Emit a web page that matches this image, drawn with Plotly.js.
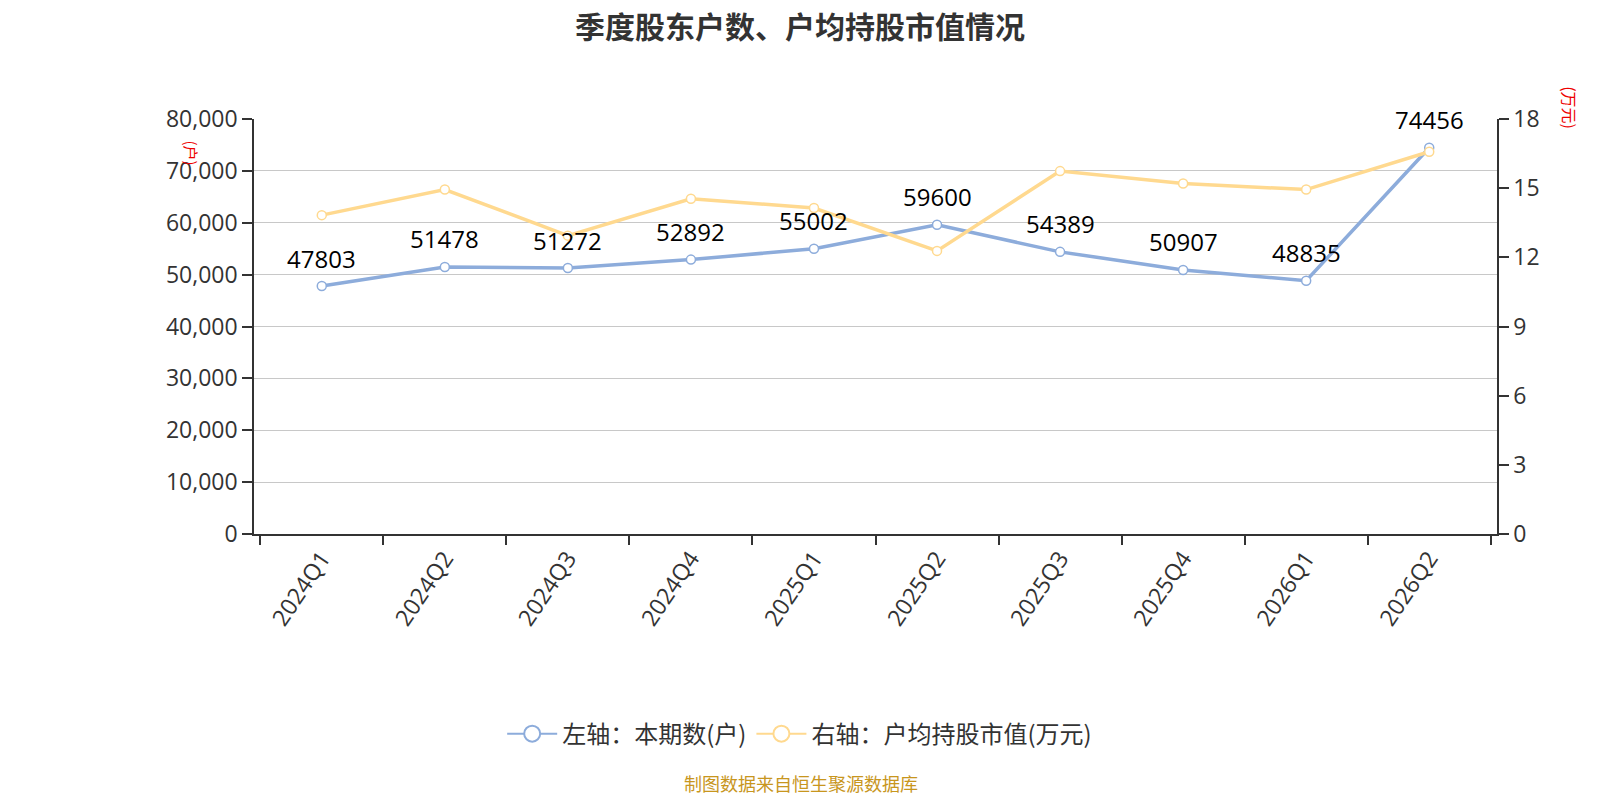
<!DOCTYPE html>
<html>
<head>
<meta charset="utf-8">
<script src="https://cdn.plot.ly/plotly-3.0.1.min.js"></script>
<style>
  html, body { margin: 0; padding: 0; background: #fff; }
  #chart { width: 1600px; height: 800px; }
</style>
</head>
<body>
<div id="chart"></div>
<script>
const quarters = ["2024Q1", "2024Q2", "2024Q3", "2024Q4", "2025Q1", "2025Q2", "2025Q3", "2025Q4", "2026Q1", "2026Q2"]
const holders = [47803, 51478, 51272, 52892, 55002, 59600, 54389, 50907, 48835, 74456]
const avgValue = [13.83, 14.94, 12.94, 14.54, 14.14, 12.28, 15.74, 15.20, 14.94, 16.58]
const leftTicks = [0, 10000, 20000, 30000, 40000, 50000, 60000, 70000, 80000]
const rightTicks = [0, 3, 6, 9, 12, 15, 18]

const blue = "#8dacdb"
const yellow = "#ffd98f"
const font = "Open Sans, Noto Sans CJK SC, sans-serif"
const cjk = "Noto Sans CJK SC, sans-serif"

const holderLine = {
  name: "左轴：本期数(户)",
  x: quarters,
  y: holders,
  yaxis: "y",
  type: "scatter",
  mode: "lines+markers",
  line: {color: blue, width: 3.5},
  marker: {size: 9, color: "#fff", line: {color: blue, width: 1.5}},
  showlegend: false,
  cliponaxis: false
}

const valueLine = {
  name: "右轴：户均持股市值(万元)",
  x: quarters,
  y: avgValue,
  yaxis: "y2",
  type: "scatter",
  mode: "lines+markers",
  line: {color: yellow, width: 3.5},
  marker: {size: 9, color: "#fff", line: {color: yellow, width: 1.5}},
  showlegend: false,
  cliponaxis: false
}

// legend-only entries, big open circles like the original
const legendBlue = {
  name: holderLine.name, x: [null], y: [null], type: "scatter", mode: "lines+markers",
  line: {color: blue, width: 2},
  marker: {size: 20, color: "#fff", line: {color: blue, width: 2}}
}
const legendYellow = {
  name: valueLine.name, x: [null], y: [null], yaxis: "y2", type: "scatter", mode: "lines+markers",
  line: {color: yellow, width: 2},
  marker: {size: 20, color: "#fff", line: {color: yellow, width: 2}}
}

// value labels over the blue points
const labels = quarters.map((q, i) => ({
  x: q, y: holders[i], xref: "x", yref: "y",
  text: String(holders[i]), showarrow: false,
  yanchor: "middle", yshift: 28,
  font: {size: 24, color: "#000", family: font}
}))

const layout = {
  width: 1600,
  height: 800,
  margin: {l: 254, r: 103, t: 119, b: 266},
  paper_bgcolor: "#fff",
  plot_bgcolor: "#fff",
  font: {family: font, color: "#333", size: 20},
  title: {
    text: "<b>季度股东户数、户均持股市值情况</b>",
    x: 0.5, xanchor: "center", y: 0.966, yanchor: "middle",
    font: {size: 30, color: "#333", family: cjk}
  },
  xaxis: {
    type: "category",
    tickangle: -56,
    ticks: "outside",
    tickson: "boundaries",
    ticklen: 9,
    tickcolor: "#333",
    tickwidth: 1.5,
    showline: true,
    linecolor: "#333",
    linewidth: 1.5,
    showgrid: false,
    automargin: false,
    tickfont: {size: 23, color: "#333"}
  },
  yaxis: {
    range: [0, 80000],
    tickvals: leftTicks,
    tickformat: ",d",
    ticks: "outside",
    ticklen: 10,
    tickcolor: "#333",
    tickwidth: 1.5,
    showline: true,
    linecolor: "#333",
    linewidth: 1.5,
    gridcolor: "#c8c8c8",
    gridwidth: 1.2,
    zeroline: false,
    automargin: false,
    tickfont: {size: 23, color: "#333"}
  },
  yaxis2: {
    overlaying: "y",
    side: "right",
    range: [0, 18],
    tickvals: rightTicks,
    ticks: "outside",
    ticklen: 10,
    tickcolor: "#333",
    tickwidth: 1.5,
    showline: true,
    linecolor: "#333",
    linewidth: 1.5,
    showgrid: false,
    zeroline: false,
    automargin: false,
    tickfont: {size: 23, color: "#333"}
  },
  legend: {
    orientation: "h",
    x: 0.439, xanchor: "center",
    y: -0.482, yanchor: "middle",
    font: {size: 24, color: "#333", family: cjk},
    itemwidth: 50
  },
  annotations: labels.concat([
    {text: "(户)", xref: "paper", yref: "paper", x: -0.06, y: 0.952,
     showarrow: false, textangle: 90, font: {size: 15, color: "#e00", family: cjk}},
    {text: "(万元)", xref: "paper", yref: "paper", x: 1.07, y: 1.085,
     showarrow: false, textangle: 90, font: {size: 16, color: "#e00", family: cjk}},
    {text: "制图数据来自恒生聚源数据库", xref: "paper", yref: "paper", x: 0.44, y: -0.6,
     yanchor: "middle", showarrow: false, font: {size: 18, color: "#c8961e", family: cjk}}
  ])
}

Plotly.newPlot("chart", [holderLine, valueLine, legendBlue, legendYellow], layout, {displayModeBar: false})
</script>
</body>
</html>
